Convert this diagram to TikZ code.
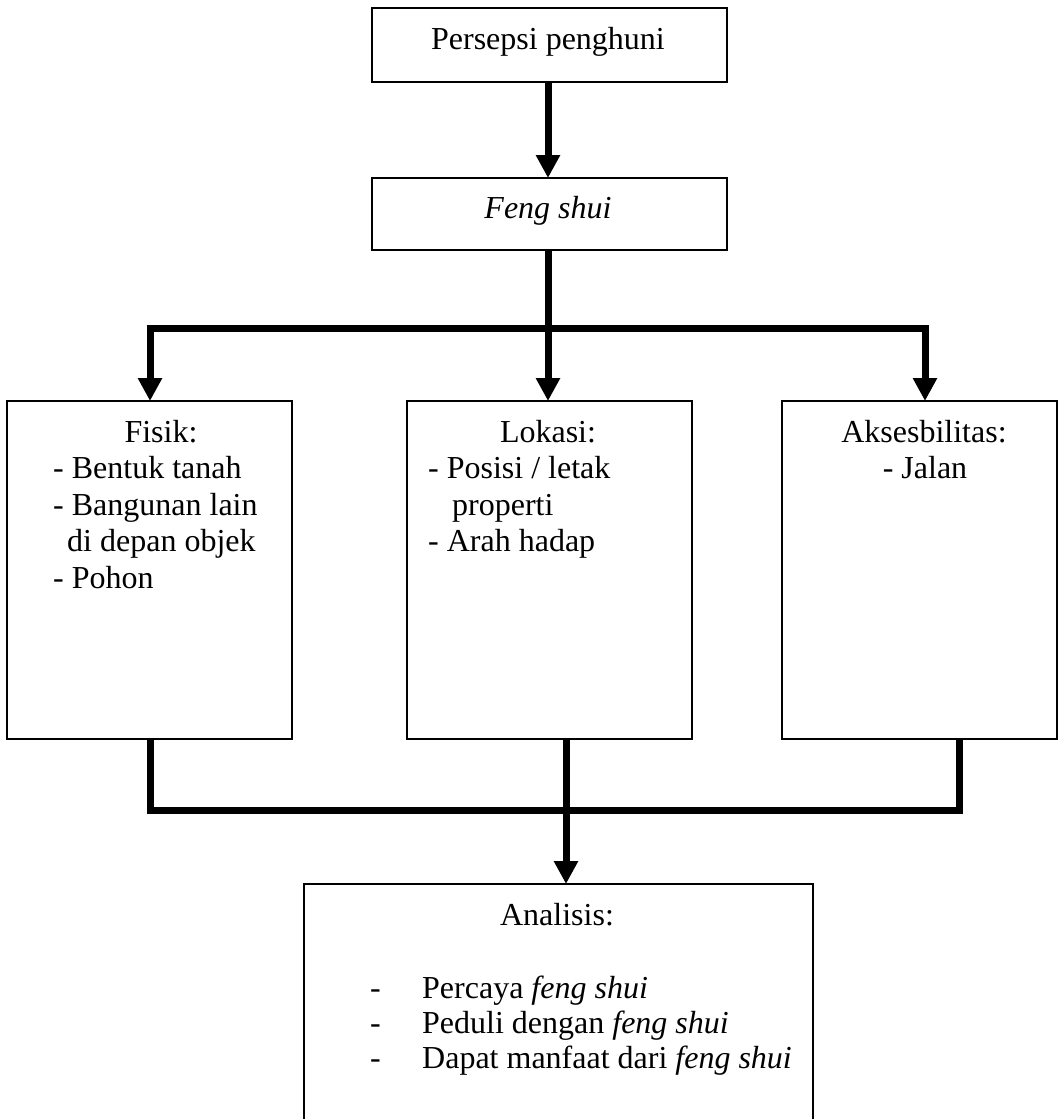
\documentclass[tikz,border=0pt]{standalone}
\usepackage{fontspec}
\setmainfont{Liberation Serif}
\usetikzlibrary{arrows.meta}
\begin{document}
\begin{tikzpicture}[x=1pt,y=-1pt,
  box/.style={draw,line width=1.2pt,inner sep=0pt},
  conn/.style={line width=7pt,line join=miter,line cap=butt},
  arr/.style={conn,-{Triangle[width=23pt,length=23pt]}},
  txt/.style={inner sep=0pt,font=\fontsize{32pt}{36pt}\selectfont},
  tl/.style={txt,anchor=base west},
  tc/.style={txt,anchor=base}]
\useasboundingbox (0,0) rectangle (1059,1119);
% boxes (drawn as rectangles, named by coordinates)
\draw[box] (372,8) rectangle (727,82);
\coordinate (pers-s) at (548,82);
\draw[box] (372,178) rectangle (727,250);
\coordinate (feng-n) at (548,178);
\coordinate (feng-s) at (548,250);
\draw[box] (7,401) rectangle (292,739);
\coordinate (fis-n) at (150,401);
\coordinate (fis-s) at (150,739);
\draw[box] (407,401) rectangle (692,739);
\coordinate (lok-n) at (548,401);
\coordinate (lok-s) at (566,739);
\draw[box] (782,401) rectangle (1057,739);
\coordinate (aks-n) at (925,401);
\coordinate (aks-s) at (959,739);
\draw[box] (304,884) rectangle (813,1125);
\coordinate (ana-n) at (566,884);
% top texts
\node[tc] (t1) at (548,49) {Persepsi penghuni};
\node[tc] (t2) at (548,218) {\itshape Feng shui};
% Fisik
\node[tc] (f0) at (161,442) {Fisik:};
\node[tl] (f1) at (53,478.5) {- Bentuk tanah};
\node[tl] (f2) at (53,515) {- Bangunan lain};
\node[tl] (f3) at (67,551.5) {di depan objek};
\node[tl] (f4) at (53,588) {- Pohon};
% Lokasi
\node[tc] (l0) at (548,442) {Lokasi:};
\node[tl] (l1) at (428,478.5) {- Posisi / letak};
\node[tl] (l2) at (452,515) {properti};
\node[tl] (l3) at (428,551.5) {- Arah hadap};
% Aksesbilitas
\node[tc] (a0) at (924,442) {Aksesbilitas:};
\node[tc] (a1) at (925,478.5) {- Jalan};
% Analisis
\node[tc] (n0) at (557,925) {Analisis:};
\node[tl] (d1) at (370,998) {-};
\node[tl] (d2) at (370,1033) {-};
\node[tl] (d3) at (370,1068) {-};
\node[tl] (n1) at (422,998) {Percaya \textit{feng shui}};
\node[tl] (n2) at (422,1033) {Peduli dengan \textit{feng shui}};
\node[tl] (n3) at (422,1068) {Dapat manfaat dari \textit{feng shui}};
% connectors
\coordinate (hl) at (150,328);
\coordinate (hm) at (548,328);
\coordinate (hr) at (925,328);
\draw[arr] (pers-s) -- (feng-n);
\draw[arr] (feng-s) -- (lok-n);
\draw[conn] ([xshift=-3.5pt]hl) -- ([xshift=3.5pt]hr);
\draw[arr] ([yshift=-3.5pt]hl) -- (fis-n);
\draw[arr] ([yshift=-3.5pt]hr) -- (aks-n);
\coordinate (bl) at (150,810);
\coordinate (bm) at (566,810);
\coordinate (br) at (959,810);
\draw[conn] (fis-s) -- (bl) -- (br) -- (aks-s);
\draw[conn] (lok-s) -- (bm);
\draw[arr] (bm) -- (ana-n);
\end{tikzpicture}
\end{document}
